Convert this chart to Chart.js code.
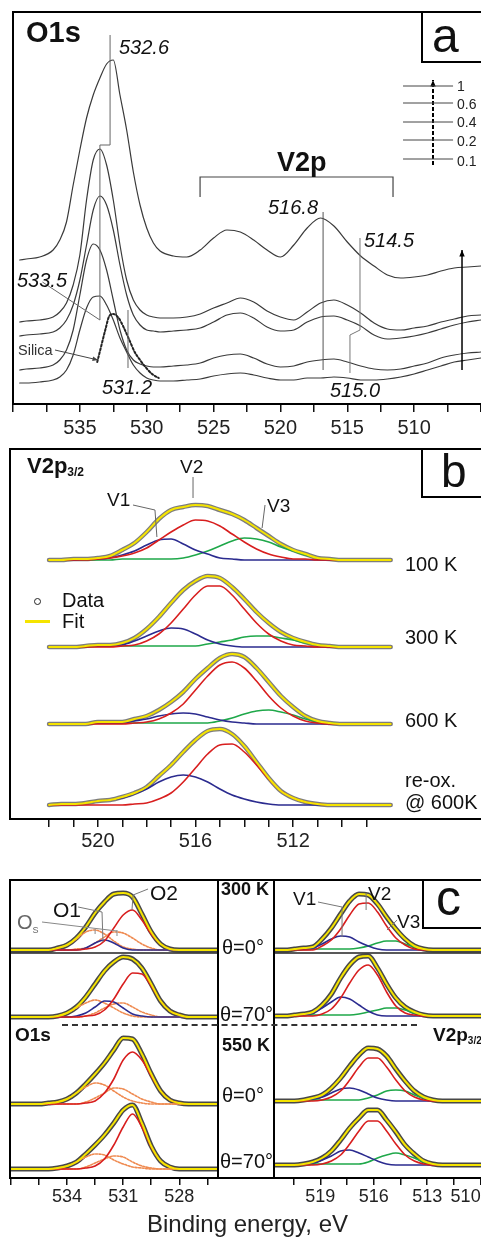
<!DOCTYPE html>
<html>
<head>
<meta charset="utf-8">
<script src="https://cdn.jsdelivr.net/npm/chart.js@4.4.1/dist/chart.umd.min.js"></script>
<style>
html,body{margin:0;padding:0;background:#fff;}
body{width:481px;height:1239px;position:relative;overflow:hidden;font-family:"Liberation Sans",Arial,Helvetica,sans-serif;}
canvas{position:absolute;}
.t{position:absolute;white-space:nowrap;line-height:1;color:#111;}
.hl{position:absolute;background:#000;}
.box{position:absolute;border:2px solid #000;background:#fff;box-sizing:border-box;}
</style>
</head>
<body>
<canvas id="ca" width="481" height="440" style="left:0;top:0"></canvas>
<canvas id="cb" width="481" height="420" style="left:0;top:440px"></canvas>
<canvas id="ccl" width="218" height="340" style="left:0;top:870px"></canvas>
<canvas id="ccr" width="221" height="340" style="left:260px;top:870px"></canvas>

<!-- panel a texts -->
<div class="box" style="left:421px;top:11px;width:64px;height:52px"></div>
<div class="t" style="left:432px;top:12px;font-size:48px">a</div>
<div class="t" style="left:26px;top:18px;font-size:29px;font-weight:bold">O1s</div>
<div class="t" style="left:119px;top:37px;font-size:20px;font-style:italic">532.6</div>
<div class="t" style="left:17px;top:270px;font-size:20px;font-style:italic">533.5</div>
<div class="t" style="left:18px;top:343px;font-size:14.5px;color:#333">Silica</div>
<div class="t" style="left:102px;top:377px;font-size:20px;font-style:italic">531.2</div>
<div class="t" style="left:268px;top:197px;font-size:20px;font-style:italic">516.8</div>
<div class="t" style="left:364px;top:230px;font-size:20px;font-style:italic">514.5</div>
<div class="t" style="left:330px;top:380px;font-size:20px;font-style:italic">515.0</div>
<div class="t" style="left:277px;top:149px;font-size:27px;font-weight:bold">V2p</div>
<div class="t" style="left:457px;top:79px;font-size:14px;color:#222">1</div>
<div class="t" style="left:457px;top:97px;font-size:14px;color:#222">0.6</div>
<div class="t" style="left:457px;top:115px;font-size:14px;color:#222">0.4</div>
<div class="t" style="left:457px;top:134px;font-size:14px;color:#222">0.2</div>
<div class="t" style="left:457px;top:154px;font-size:14px;color:#222">0.1</div>

<!-- panel b texts -->
<div class="box" style="left:421px;top:448px;width:64px;height:50px"></div>
<div class="t" style="left:441px;top:448px;font-size:46px">b</div>
<div class="t" style="left:27px;top:455px;font-size:22px;font-weight:bold">V2p<span style="font-size:12px;position:relative;top:3px">3/2</span></div>
<div class="t" style="left:107px;top:490px;font-size:19px">V1</div>
<div class="t" style="left:180px;top:457px;font-size:19px">V2</div>
<div class="t" style="left:267px;top:496px;font-size:19px">V3</div>
<div class="t" style="left:405px;top:554px;font-size:20px">100 K</div>
<div class="t" style="left:405px;top:627px;font-size:20px">300 K</div>
<div class="t" style="left:405px;top:710px;font-size:20px">600 K</div>
<div class="t" style="left:405px;top:770px;font-size:20px">re-ox.</div>
<div class="t" style="left:405px;top:792px;font-size:20px">@ 600K</div>
<div style="position:absolute;left:34px;top:598px;width:5px;height:5px;border:1.6px solid #222;border-radius:50%"></div>
<div class="t" style="left:62px;top:590px;font-size:20px">Data</div>
<div style="position:absolute;left:25px;top:620px;width:25px;height:3px;background:#f5e400"></div>
<div class="t" style="left:62px;top:611px;font-size:20px">Fit</div>

<!-- panel c frame and texts -->
<div class="hl" style="left:9px;top:879px;width:472px;height:2px"></div>
<div class="hl" style="left:217px;top:879px;width:2px;height:300px"></div>
<div class="hl" style="left:273px;top:879px;width:2px;height:300px"></div>
<div class="hl" style="left:217px;top:1177px;width:58px;height:2px"></div>
<div style="position:absolute;left:62px;top:1024px;width:355px;border-top:2px dashed #333"></div>
<div class="box" style="left:422px;top:879px;width:63px;height:50px"></div>
<div class="t" style="left:436px;top:873px;font-size:50px">c</div>
<div class="t" style="left:221px;top:880px;font-size:18px;font-weight:bold">300 K</div>
<div class="t" style="left:222px;top:937px;font-size:20px">&theta;=0&deg;</div>
<div class="t" style="left:220px;top:1004px;font-size:20px">&theta;=70&deg;</div>
<div class="t" style="left:222px;top:1036px;font-size:18px;font-weight:bold">550 K</div>
<div class="t" style="left:222px;top:1085px;font-size:20px">&theta;=0&deg;</div>
<div class="t" style="left:220px;top:1151px;font-size:20px">&theta;=70&deg;</div>
<div class="t" style="left:15px;top:1025px;font-size:19px;font-weight:bold">O1s</div>
<div class="t" style="left:433px;top:1025px;font-size:19px;font-weight:bold">V2p<span style="font-size:10px;position:relative;top:3px">3/2</span></div>
<div class="t" style="left:150px;top:882px;font-size:21px">O2</div>
<div class="t" style="left:53px;top:899px;font-size:21px">O1</div>
<div class="t" style="left:17px;top:912px;font-size:20px;color:#666">O<span style="font-size:9px;position:relative;top:4px">S</span></div>
<div class="t" style="left:293px;top:889px;font-size:19px">V1</div>
<div class="t" style="left:368px;top:884px;font-size:19px">V2</div>
<div class="t" style="left:397px;top:912px;font-size:19px">V3</div>
<div class="t" style="left:147px;top:1212px;font-size:24px;color:#222">Binding energy, eV</div>

<script>
// ---------------- Panel a: O1s + V2p survey (intensity offset, arb. units) ----------------
const aE = [539.5,539,538,537,536.5,536,535.5,535,534.5,534,533.5,533,532.5,532,531.5,531,530.5,530,529.5,529,528,527,526,525,524,523,522,521,520,519,518,517,516,515,514,513,512,511,510,509,508,507,506,505];
const aCov1  = [144,145,147,154,164,182,219,254,286,309,326,340,344,309,274,232,199,176,161,153,148,147,154,166,174,172,164,154,147,159,176,186,178,162,148,138,129,126,127,129,133,136,137,138];
const aCov06 = [82,83,84,87,92,101,119,149,204,244,255,239,204,159,124,104,94,89,87,86,86,87,90,96,101,106,102,93,87,84,92,101,104,99,91,81,75,74,76,78,82,85,88,89];
const aCov04 = [68,69,70,72,76,84,99,124,159,194,208,199,174,139,109,89,79,74,73,72,73,74,76,82,89,91,86,77,73,74,82,87,88,84,78,69,65,66,68,71,75,79,82,84];
const aCov02 = [34,35,36,39,44,54,74,109,144,160,154,134,104,74,54,44,40,38,37,37,38,39,41,46,49,50,46,40,37,38,42,44,45,42,38,35,34,35,38,41,46,49,51,52];
const aCov01 = [21,21,22,24,27,34,49,74,96,107,108,99,84,66,52,39,31,26,24,23,23,24,25,28,30,31,29,26,24,24,26,26,27,26,24,24,25,27,30,34,38,42,44,46];
const silE = [533.7,533.4,533.1,532.8,532.5,532.1,531.7,531.3,530.9,530.5,530.1,529.6,529.1];
const silI = [42,58,74,88,90,86,76,64,52,44,37,30,26];
const aTicks = [505,507.5,510,512.5,515,517.5,520,522.5,525,527.5,530,532.5,535,537.5,540];
const aLabels = [510,515,520,525,530,535];

// ---------------- Panel b: V2p3/2 fits ----------------
const bE = [522,521.5,521,520.5,520,519.5,519,518.5,518,517.5,517,516.5,516,515.5,515,514.5,514,513.5,513,512.5,512,511.5,511,510.5,510,509.5,509,508.5,508];
const bBase = [259,172,95,14];
const fit100   = [0,0,1,1,2,4,10,17,28,41,50,53,55,54,50,46,40,32,24,16,10,6,2,1,0,0,0,0,0];
const red100   = [0,0,0,0,1,2,4,7,12,20,28,35,40,39,34,26,18,11,6,3,1,1,0,0,0,0,0,0,0];
const blue100  = [0,0,0,1,1,2,5,9,15,20,21,16,10,6,2,1,0,0,0,0,0,0,0,0,0,0,0,0,0];
const green100 = [0,0,0,0,0,0,1,1,1,1,1,2,5,9,14,19,22,21,18,13,9,5,2,1,0,0,0,0,0];
const fit300   = [0,0,0,1,2,2,4,9,18,30,44,57,66,71,69,60,48,35,24,15,9,5,2,1,0,0,0,0,0];
const red300   = [0,0,0,0,0,0,1,2,6,13,24,38,52,61,61,52,38,24,13,6,2,1,0,0,0,0,0,0,0];
const blue300  = [0,0,0,1,1,1,2,6,11,16,19,18,13,7,3,1,0,0,0,0,0,0,0,0,0,0,0,0,0];
const green300 = [0,0,0,0,1,1,1,1,1,1,1,1,1,3,5,7,10,11,11,9,7,4,2,1,0,0,0,0,0];
const fit600   = [0,0,0,0,2,2,2,5,8,14,22,32,45,56,66,70,67,56,42,28,17,8,3,1,0,0,0,0,0];
const red600   = [0,0,0,0,0,0,0,1,2,5,11,20,34,48,59,62,56,43,28,16,8,3,1,0,0,0,0,0,0];
const blue600  = [0,0,0,0,1,1,1,3,5,8,10,11,10,7,4,2,1,0,0,0,0,0,0,0,0,0,0,0,0];
const green600 = [0,0,0,0,1,1,1,1,1,1,1,1,1,1,3,6,10,13,14,12,9,5,2,1,0,0,0,0,0];
const fitRe    = [0,1,1,2,4,5,8,12,18,29,40,53,65,74,76,71,59,43,27,14,7,3,1,0,0,0,0,0,0];
const redRe    = [0,0,0,0,0,0,0,1,2,6,12,23,37,51,60,61,53,40,26,14,7,3,1,0,0,0,0,0,0];
const blueRe   = [0,1,1,2,4,5,7,11,16,23,28,30,28,23,16,10,6,3,1,0,0,0,0,0,0,0,0,0,0];
const bTicks = [509,510,511,512,513,514,515,516,517,518,519,520,521,522];
const bLabels = [512,516,520];

// ---------------- Panel c left: O1s ----------------
const cLE = [537,536.5,536,535.5,535,534.5,534,533.5,533,532.5,532,531.5,531,530.5,530,529.5,529,528.5,528,527.5,527,526.5,526];
const cLBase = [228,161,74,9];
const fitL1  = [0,0,0,0,0,2,5,12,23,37,48,56,57,53,36,18,6,1,0,0,0,0,0];
const redL1  = [0,0,0,0,0,0,0,0,1,3,9,22,35,40,30,16,6,1,0,0,0,0,0];
const blueL1 = [0,0,0,0,0,0,0,0,2,7,10,7,2,0,0,0,0,0,0,0,0,0,0];
const orAL1  = [0,0,0,0,0,2,5,11,18,20,16,9,3,1,0,0,0,0,0,0,0,0,0];
const orBL1  = [0,0,0,0,0,0,0,1,2,7,13,18,17,12,6,2,0,0,0,0,0,0,0];
const fitL2  = [0,0,0,0,0,1,4,10,20,33,46,55,60,58,49,33,16,6,2,0,0,0,0];
const redL2  = [0,0,0,0,0,0,0,0,1,2,7,18,33,44,43,31,16,6,2,0,0,0,0];
const blueL2 = [0,0,0,0,0,0,0,1,4,10,16,15,9,3,1,0,0,0,0,0,0,0,0];
const orAL2  = [0,0,0,0,0,1,4,9,14,17,14,9,4,1,0,0,0,0,0,0,0,0,0];
const orBL2  = [0,0,0,0,0,0,0,0,1,4,9,13,14,10,5,2,0,0,0,0,0,0,0];
const fitL3  = [0,0,0,0,1,2,5,11,20,30,41,54,66,65,50,30,13,4,1,0,0,0,0];
const redL3  = [0,0,0,0,0,0,0,0,1,3,11,25,44,52,44,28,13,4,1,0,0,0,0];
const orAL3  = [0,0,0,0,1,2,5,11,17,21,19,13,7,3,1,0,0,0,0,0,0,0,0];
const orBL3  = [0,0,0,0,0,0,0,0,2,6,11,16,15,10,5,2,0,0,0,0,0,0,0];
const fitL4  = [0,0,0,0,0,1,3,7,15,24,34,46,59,64,46,23,8,2,0,0,0,0,0];
const redL4  = [0,0,0,0,0,0,0,0,1,3,10,24,42,55,42,22,8,2,0,0,0,0,0];
const orAL4  = [0,0,0,0,0,1,3,7,12,15,14,9,5,2,1,0,0,0,0,0,0,0,0];
const orBL4  = [0,0,0,0,0,0,0,0,2,6,10,13,12,7,3,1,0,0,0,0,0,0,0];
const cLTicks = [526.5,528,529.5,531,532.5,534,535.5,537];
const cLLabels = [528,531,534];

// ---------------- Panel c right: V2p3/2 ----------------
const cRE = [521.5,520.98,520.46,519.94,519.42,518.9,518.38,517.86,517.35,516.83,516.31,515.79,515.28,514.76,514.24,513.72,513.2,512.67,512.15,511.63,511.11,510.59,510.07,509.55,509.04,508.52,508,507.48];
const cRBase = [228,162,77,13];
const fitR1   = [0,0,1,2,3,11,22,36,49,56,55,46,33,21,11,4,1,0,0,0,0,0,0,0,0,0,0,0];
const redR1   = [0,0,0,0,0,4,10,21,35,46,47,38,24,12,5,1,0,0,0,0,0,0,0,0,0,0,0,0];
const blueR1  = [0,0,1,1,2,6,11,14,13,8,4,1,0,0,0,0,0,0,0,0,0,0,0,0,0,0,0,0];
const greenR1 = [0,0,0,1,1,1,1,1,1,2,4,7,9,9,6,3,1,0,0,0,0,0,0,0,0,0,0,0];
const fitR2   = [0,0,1,2,4,11,22,38,51,59,60,48,32,18,9,4,1,0,0,0,0,0,0,0,0,0,0,0];
const redR2   = [0,0,0,0,0,2,7,18,33,46,51,41,24,10,3,1,0,0,0,0,0,0,0,0,0,0,0,0];
const blueR2  = [0,0,1,1,3,8,14,19,17,11,5,1,0,0,0,0,0,0,0,0,0,0,0,0,0,0,0,0];
const greenR2 = [0,0,0,1,1,1,1,1,1,2,4,6,8,8,6,3,1,0,0,0,0,0,0,0,0,0,0,0];
const fitR3   = [0,0,0,1,3,6,13,23,35,46,53,52,45,32,20,10,4,1,0,0,0,0,0,0,0,0,0,0];
const redR3   = [0,0,0,0,0,1,4,10,21,34,43,43,34,21,10,4,1,0,0,0,0,0,0,0,0,0,0,0];
const blueR3  = [0,0,0,1,2,4,8,12,13,11,7,3,1,0,0,0,0,0,0,0,0,0,0,0,0,0,0,0];
const greenR3 = [0,0,0,0,1,1,1,1,1,1,3,6,10,11,10,6,3,1,0,0,0,0,0,0,0,0,0,0];
const fitR4   = [0,0,0,1,3,7,14,25,37,47,55,55,45,33,20,11,4,1,0,0,0,0,0,0,0,0,0,0];
const redR4   = [0,0,0,0,0,1,4,10,21,34,44,44,34,21,10,4,1,0,0,0,0,0,0,0,0,0,0,0];
const blueR4  = [0,0,0,1,2,5,9,14,15,12,8,4,1,0,0,0,0,0,0,0,0,0,0,0,0,0,0,0];
const greenR4 = [0,0,0,0,1,1,1,1,1,1,3,7,10,12,10,7,3,1,0,0,0,0,0,0,0,0,0,0];
const cRTicks = [510,511.5,513,514.5,516,517.5,519,520.5];
const cRLabels = [510,513,516,519];

// ---------------- styling ----------------
const YEL = '#f5e400', RED = '#d81e1e', BLUE = '#2b2b8f', GREEN = '#1fa84a', ORANGE = '#ef8a50', SPEC = '#3a3a3a';
const DATA_B = 'rgba(70,70,70,0.7)', DATA_C = 'rgba(40,40,40,0.85)';
const FONT = '"Liberation Sans", Arial, sans-serif';

const annotPlugin = {
  id: 'annot',
  afterDatasetsDraw(chart, args, opts) {
    const ctx = chart.ctx, xs = chart.scales.x, ys = chart.scales.y;
    (opts.lines || []).forEach(L => {
      const P = L.pts.map(p => [xs.getPixelForValue(p[0]), ys.getPixelForValue(p[1])]);
      ctx.save();
      ctx.strokeStyle = L.color || '#000';
      ctx.lineWidth = L.width || 1;
      ctx.setLineDash(L.dash || []);
      ctx.beginPath();
      P.forEach((p, i) => i ? ctx.lineTo(p[0], p[1]) : ctx.moveTo(p[0], p[1]));
      ctx.stroke();
      if (L.arrow) {
        const n = P.length, a = P[n - 2], b = P[n - 1];
        const ang = Math.atan2(b[1] - a[1], b[0] - a[0]), s = L.head || 7;
        ctx.setLineDash([]);
        ctx.fillStyle = L.color || '#000';
        ctx.beginPath();
        ctx.moveTo(b[0], b[1]);
        ctx.lineTo(b[0] - s * Math.cos(ang - 0.4), b[1] - s * Math.sin(ang - 0.4));
        ctx.lineTo(b[0] - s * Math.cos(ang + 0.4), b[1] - s * Math.sin(ang + 0.4));
        ctx.closePath();
        ctx.fill();
      }
      ctx.restore();
    });
    const f = opts.frame;
    if (f) {
      const A = chart.chartArea;
      ctx.save();
      ctx.strokeStyle = '#000'; ctx.lineWidth = 2; ctx.setLineDash([]);
      ctx.beginPath();
      if (f.left) { ctx.moveTo(A.left, A.bottom); ctx.lineTo(A.left, A.top - 1); }
      if (f.top) { ctx.moveTo(A.left - 1, A.top); ctx.lineTo(A.right, A.top); }
      ctx.stroke();
      ctx.restore();
    }
  }
};
Chart.register(annotPlugin);

function series(xs, ys, off, color, width, order, dash) {
  return {
    data: xs.map((x, i) => ({ x: x, y: ys[i] + off })),
    borderColor: color, borderWidth: width, borderDash: dash || [],
    pointRadius: 0, fill: false, cubicInterpolationMode: 'monotone',
    borderCapStyle: 'round', borderJoinStyle: 'round', order: order
  };
}
function fitRow(xs, base, fit, comps, dataW, dataC) {
  const out = [series(xs, fit, base, dataC, dataW, 5)];
  comps.forEach(c => out.push(series(xs, c[0], base, c[1], c[2] || 1.6, 3, c[3])));
  out.push(series(xs, fit, base, YEL, 2, 1));
  return out;
}
function mk(id, o) {
  try {
    return new Chart(document.getElementById(id), {
      type: 'line',
      data: { datasets: o.datasets },
      options: {
        responsive: false, animation: false, devicePixelRatio: 1, events: [],
        layout: { padding: { left: o.padL, right: o.padR || 0, top: o.padT, bottom: 0 }, autoPadding: false },
        plugins: { legend: { display: false }, tooltip: { enabled: false }, annot: { lines: o.lines || [], frame: o.frame } },
        scales: {
          x: {
            type: 'linear', reverse: true, min: o.xMin, max: o.xMax,
            afterBuildTicks: s => { s.ticks = o.ticks.map(v => ({ value: v })); },
            afterFit: s => { s.height = o.axisH; },
            ticks: {
              autoSkip: false, maxRotation: 0, minRotation: 0, padding: o.tickPad, color: '#222',
              align: o.align || 'center', font: { family: FONT, size: o.fs },
              callback: v => (o.labels.indexOf(v) >= 0 ? String(v) : '')
            },
            grid: { display: true, drawOnChartArea: false, drawTicks: true, tickLength: o.tickLen, color: '#111', lineWidth: 1.5 },
            border: { display: true, color: '#000', width: 2 }
          },
          y: { display: false, min: 0, max: o.yMax }
        }
      }
    });
  } catch (e) {
    console.error(id, e);
  }
}

// ---- chart a ----
const aSets = [
  series(aE, aCov1, 0, SPEC, 1.2, 2),
  series(aE, aCov06, 0, SPEC, 1.2, 2),
  series(aE, aCov04, 0, SPEC, 1.2, 2),
  series(aE, aCov02, 0, SPEC, 1.2, 2),
  series(aE, aCov01, 0, SPEC, 1.2, 2),
  series(silE, silI, 0, '#222', 2, 1, [2, 2])
];
mk('ca', {
  datasets: aSets, padL: 13, padT: 12, axisH: 36, xMin: 505, xMax: 540, yMax: 392,
  ticks: aTicks, labels: aLabels, tickPad: 4, tickLen: 8, fs: 20, frame: { left: true, top: true },
  lines: [
    { pts: [[532.74, 369], [532.74, 259], [533.5, 259], [533.5, 84]], color: '#666' },
    { pts: [[537.8, 122], [533.5, 84]], color: '#666' },
    { pts: [[531.4, 94], [531.4, 36]], color: '#666' },
    { pts: [[536.86, 54], [533.64, 44]], color: '#444', arrow: true, head: 6 },
    { pts: [[516.81, 192], [516.81, 34]], color: '#555' },
    { pts: [[514.05, 166], [514.05, 74], [514.8, 69], [514.8, 31]], color: '#777' },
    { pts: [[526.01, 207], [526.01, 227], [511.58, 227], [511.58, 207]], color: '#444', width: 1.2 },
    { pts: [[508.59, 239], [508.59, 324]], color: '#000', width: 2, dash: [4, 2], arrow: true, head: 7 },
    { pts: [[510.83, 318], [507.09, 318]], color: '#444' },
    { pts: [[510.83, 301], [507.09, 301]], color: '#444' },
    { pts: [[510.83, 282], [507.09, 282]], color: '#444' },
    { pts: [[510.83, 264], [507.09, 264]], color: '#444' },
    { pts: [[510.83, 245], [507.09, 245]], color: '#444' },
    { pts: [[506.42, 34], [506.42, 154]], color: '#000', width: 1.5, arrow: true, head: 7 }
  ]
});

// ---- chart b ----
const bSets = [].concat(
  fitRow(bE, bBase[0], fit100, [[red100, RED], [blue100, BLUE], [green100, GREEN]], 4.5, DATA_B),
  fitRow(bE, bBase[1], fit300, [[red300, RED], [blue300, BLUE], [green300, GREEN]], 4.5, DATA_B),
  fitRow(bE, bBase[2], fit600, [[red600, RED], [blue600, BLUE], [green600, GREEN]], 4.5, DATA_B),
  fitRow(bE, bBase[3], fitRe, [[redRe, RED], [blueRe, BLUE]], 4.5, DATA_B)
);
mk('cb', {
  datasets: bSets, padL: 10, padT: 9, axisH: 41, xMin: 504.3, xMax: 523.6, yMax: 370,
  ticks: bTicks, labels: bLabels, tickPad: 2, tickLen: 8, fs: 20, frame: { left: true, top: true },
  lines: [
    { pts: [[518.56, 314], [517.66, 309], [517.58, 282]], color: '#666' },
    { pts: [[516.1, 342], [516.1, 321]], color: '#666' },
    { pts: [[513.15, 314], [513.27, 291]], color: '#666' }
  ]
});

// ---- chart c left ----
const OD = [2, 1.5];
const cLSets = [].concat(
  fitRow(cLE, cLBase[0], fitL1, [[redL1, RED], [blueL1, BLUE], [orAL1, ORANGE, 1.6, OD], [orBL1, ORANGE, 1.6, OD]], 5, DATA_C),
  fitRow(cLE, cLBase[1], fitL2, [[redL2, RED], [blueL2, BLUE], [orAL2, ORANGE, 1.6, OD], [orBL2, ORANGE, 1.6, OD]], 5, DATA_C),
  fitRow(cLE, cLBase[2], fitL3, [[redL3, RED], [orAL3, ORANGE, 1.6, OD], [orBL3, ORANGE, 1.6, OD]], 5, DATA_C),
  fitRow(cLE, cLBase[3], fitL4, [[redL4, RED], [orAL4, ORANGE, 1.6, OD], [orBL4, ORANGE, 1.6, OD]], 5, DATA_C)
);
mk('ccl', {
  datasets: cLSets, padL: 10, padT: 10, axisH: 32, xMin: 525.93, xMax: 537.05, yMax: 298,
  ticks: cLTicks, labels: cLLabels, tickPad: 1, tickLen: 7, fs: 18, frame: { left: true },
  lines: [
    { pts: [[537.05, 225], [525.93, 225]], color: '#222', width: 1.5 },
    { pts: [[529.67, 289], [530.47, 283], [530.53, 268]], color: '#777' },
    { pts: [[533.41, 271], [532.13, 266], [532.08, 236]], color: '#777' },
    { pts: [[535.34, 256], [531.33, 247]], color: '#888' },
    { pts: [[532.5, 249], [532.5, 244]], color: '#888' },
    { pts: [[531.33, 248], [531.33, 242]], color: '#888' }
  ]
});

// ---- chart c right ----
const cRSets = [].concat(
  fitRow(cRE, cRBase[0], fitR1, [[redR1, RED], [blueR1, BLUE], [greenR1, GREEN]], 5, DATA_C),
  fitRow(cRE, cRBase[1], fitR2, [[redR2, RED], [blueR2, BLUE], [greenR2, GREEN]], 5, DATA_C),
  fitRow(cRE, cRBase[2], fitR3, [[redR3, RED], [blueR3, BLUE], [greenR3, GREEN]], 5, DATA_C),
  fitRow(cRE, cRBase[3], fitR4, [[redR4, RED], [blueR4, BLUE], [greenR4, GREEN]], 5, DATA_C)
);
mk('ccr', {
  datasets: cRSets, padL: 14, padT: 10, axisH: 32, xMin: 509.98, xMax: 521.6, yMax: 298,
  ticks: cRTicks, labels: cRLabels, tickPad: 1, tickLen: 7, fs: 18, align: 'inner',
  lines: [
    { pts: [[521.6, 225], [509.98, 225]], color: '#222', width: 1.5 },
    { pts: [[519.13, 276], [517.78, 271], [517.78, 241]], color: '#777' },
    { pts: [[516.43, 285], [516.43, 268]], color: '#777' },
    { pts: [[514.69, 258], [515.26, 248]], color: '#777' }
  ]
});
</script>
</body>
</html>
